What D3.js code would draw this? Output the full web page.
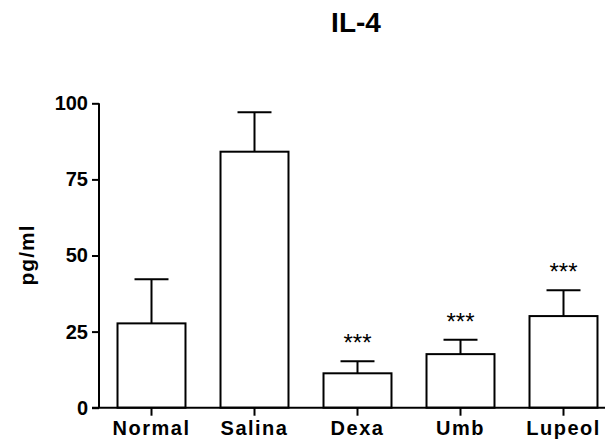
<!DOCTYPE html>
<html>
<head>
<meta charset="utf-8">
<script src="https://cdn.jsdelivr.net/npm/d3@7"></script>
<style>
  body { margin: 0; background: #fff; }
  text { font-family: Arial, "Liberation Sans", sans-serif; fill: #000; }
</style>
</head>
<body>
<div id="chart"></div>
<script>
// Data
var groups = ["Normal", "Salina", "Dexa", "Umb", "Lupeol"];
var means = [27.7, 84.1, 11.3, 17.6, 30.1];
var errors = [14.5, 13.0, 4.0, 4.7, 8.5];
var marks = ["", "", "***", "***", "***"];
var yTicks = [0, 25, 50, 75, 100];

var width = 606, height = 445;

var svg = d3.select("#chart")
    .append("svg")
    .attr("width", width)
    .attr("height", height);

// Scales
var x = d3.scaleBand()
    .domain(groups)
    .range([100, 615])
    .paddingInner(0.34)
    .paddingOuter(0.17);

var y = d3.scaleLinear()
    .domain([0, 100])
    .range([407.7, 103.3]);

var data = groups.map(function (g, i) {
    return { name: g, mean: means[i], err: errors[i], mark: marks[i] };
});

// Title
svg.append("text")
    .attr("x", 356)
    .attr("y", 32)
    .attr("text-anchor", "middle")
    .style("font-size", "28px")
    .style("font-weight", "bold")
    .text("IL-4");

// Y axis
var yAxis = svg.append("g")
    .attr("transform", "translate(99,0)")
    .call(d3.axisLeft(y).tickValues(yTicks).tickSize(7).tickSizeOuter(0).tickPadding(4));
yAxis.select(".domain").attr("stroke", "#000").attr("stroke-width", 2)
    .attr("d", "M0," + y(100) + "V" + y(0));
yAxis.selectAll(".tick line").attr("stroke", "#000").attr("stroke-width", 2);
yAxis.selectAll(".tick text")
    .style("font-size", "20px")
    .style("font-weight", "bold")
    .style("font-family", "Arial, 'Liberation Sans', sans-serif")
    .attr("fill", "#000");

// Y label
svg.append("text")
    .attr("transform", "translate(34,255) rotate(-90)")
    .attr("text-anchor", "middle")
    .style("font-size", "21px")
    .style("font-weight", "bold")
    .style("letter-spacing", "1px")
    .text("pg/ml");

// Bars
svg.selectAll(".bar")
    .data(data)
    .enter()
    .append("rect")
    .attr("class", "bar")
    .attr("x", function (d) { return x(d.name); })
    .attr("y", function (d) { return y(d.mean); })
    .attr("width", x.bandwidth())
    .attr("height", function (d) { return y(0) - y(d.mean); })
    .attr("fill", "#fff")
    .attr("stroke", "#000")
    .attr("stroke-width", 2);

// Error bars (upper only)
var cx = function (d) { return x(d.name) + x.bandwidth() / 2; };
svg.selectAll(".err")
    .data(data)
    .enter()
    .append("path")
    .attr("class", "err")
    .attr("fill", "none")
    .attr("stroke", "#000")
    .attr("stroke-width", 2)
    .attr("d", function (d) {
        var c = cx(d), hw = x.bandwidth() / 4;
        return "M" + c + "," + y(d.mean) + "V" + y(d.mean + d.err)
            + "M" + (c - hw) + "," + y(d.mean + d.err) + "H" + (c + hw);
    });

// Significance stars
svg.selectAll(".mark")
    .data(data)
    .enter()
    .append("text")
    .attr("class", "mark")
    .attr("x", cx)
    .attr("y", function (d) { return y(d.mean + d.err) - 10; })
    .attr("text-anchor", "middle")
    .style("font-size", "24px")
    .text(function (d) { return d.mark; });

// X axis
var xAxis = svg.append("g")
    .attr("transform", "translate(0," + y(0) + ")")
    .call(d3.axisBottom(x).tickSize(8).tickSizeOuter(0).tickPadding(5));
xAxis.select(".domain").attr("stroke", "#000").attr("stroke-width", 2)
    .attr("d", "M92,0H605");
xAxis.selectAll(".tick line").attr("stroke", "#000").attr("stroke-width", 2);
xAxis.selectAll(".tick text")
    .style("font-size", "20px")
    .style("font-weight", "bold")
    .style("letter-spacing", "1.5px")
    .style("font-family", "Arial, 'Liberation Sans', sans-serif")
    .attr("fill", "#000");
</script>
</body>
</html>
